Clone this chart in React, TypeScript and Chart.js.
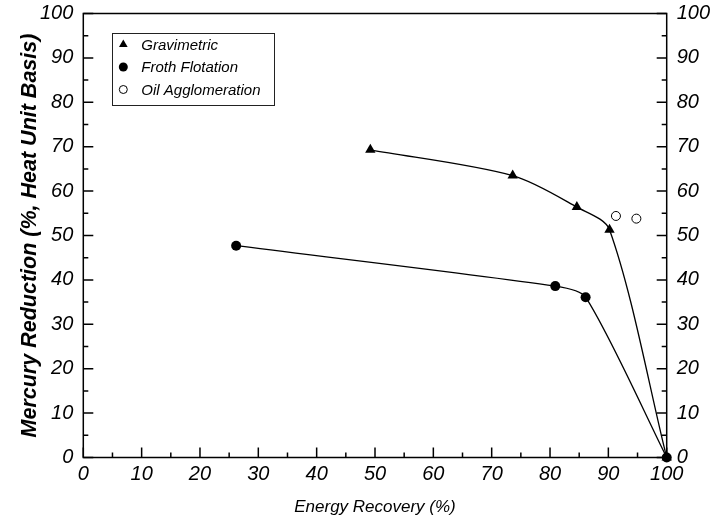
import React, { useEffect, useRef } from "react";
import { Chart, registerables } from "chart.js";

Chart.register(...registerables);

// ---- data ----
const gravimetricX = [49.2, 73.6, 84.6, 90.2, 100];
const gravimetricY = [69.3, 63.5, 56.4, 51.3, 0];
const frothX = [26.2, 80.9, 86.1, 100];
const frothY = [47.7, 38.6, 36.1, 0];
const oilX = [91.3, 94.8];
const oilY = [54.4, 53.8];
const xTickValues = [0, 10, 20, 30, 40, 50, 60, 70, 80, 90, 100];
const yTickValues = [0, 10, 20, 30, 40, 50, 60, 70, 80, 90, 100];
const seriesNames = ["Gravimetric", "Froth Flotation", "Oil Agglomeration"];
const xTitle = "Energy Recovery (%)";
const yTitle = "Mercury Reduction (%, Heat Unit Basis)";

const FONT = "'Liberation Sans', Arial, sans-serif";

const toPoints = (xs: number[], ys: number[]) => xs.map((x, i) => ({ x, y: ys[i] }));

const decorPlugin = {
  id: "decor",
  afterDraw(chart: any) {
    const ctx = chart.ctx;
    const { left, right, top, bottom } = chart.chartArea;
    const xs = chart.scales.x;
    const ys = chart.scales.y;
    ctx.save();
    ctx.strokeStyle = "#000";
    ctx.lineWidth = 1.5;
    // frame
    ctx.beginPath();
    ctx.moveTo(left, top);
    ctx.lineTo(right, top);
    ctx.lineTo(right, bottom);
    ctx.lineTo(left, bottom);
    ctx.closePath();
    ctx.stroke();
    // inward ticks
    ctx.beginPath();
    for (let v = 0; v <= 100; v += 5) {
      const len = v % 10 === 0 ? 10 : 5;
      const px = xs.getPixelForValue(v);
      ctx.moveTo(px, bottom);
      ctx.lineTo(px, bottom - len);
      const py = ys.getPixelForValue(v);
      ctx.moveTo(left, py);
      ctx.lineTo(left + len, py);
      ctx.moveTo(right, py);
      ctx.lineTo(right - len, py);
    }
    ctx.stroke();

    // legend
    const bx = left + 29;
    const by = top + 19;
    const bw = 162;
    const bh = 72;
    ctx.lineWidth = 1;
    ctx.strokeStyle = "#222";
    ctx.strokeRect(Math.round(bx) + 0.5, Math.round(by) + 0.5, bw, bh);
    ctx.font = `italic 15px ${FONT}`;
    ctx.textBaseline = "middle";
    ctx.textAlign = "left";
    ctx.fillStyle = "#000";
    const rowY = [by + 12, by + 34.5, by + 57];
    const mx = bx + 11;
    {
      const r = 5;
      const cy = rowY[0];
      ctx.beginPath();
      ctx.moveTo(mx, cy - r);
      ctx.lineTo(mx + r * 0.866, cy + r * 0.5);
      ctx.lineTo(mx - r * 0.866, cy + r * 0.5);
      ctx.closePath();
      ctx.fill();
    }
    ctx.beginPath();
    ctx.arc(mx, rowY[1], 4.5, 0, Math.PI * 2);
    ctx.fill();
    ctx.beginPath();
    ctx.arc(mx, rowY[2], 4, 0, Math.PI * 2);
    ctx.fillStyle = "#fff";
    ctx.fill();
    ctx.strokeStyle = "#000";
    ctx.stroke();
    ctx.fillStyle = "#000";
    seriesNames.forEach((n, i) => ctx.fillText(n, bx + 29, rowY[i] + 1));
    ctx.restore();
  },
};

export default function App() {
  const ref = useRef<HTMLCanvasElement | null>(null);
  useEffect(() => {
    document.body.style.margin = "0";
    const canvas = ref.current!;
    const tickFont = { family: FONT, size: 20, style: "italic" as const };
    const chart = new Chart(canvas, {
      type: "scatter",
      data: {
        datasets: [
          {
            label: seriesNames[0],
            data: toPoints(gravimetricX, gravimetricY),
            showLine: true,
            tension: 0.3,
            borderColor: "#000",
            borderWidth: 1.3,
            backgroundColor: "#000",
            pointStyle: "triangle",
            pointRadius: 6,
            pointBorderWidth: 0,
            clip: false,
            order: 1,
          } as any,
          {
            label: seriesNames[1],
            data: toPoints(frothX, frothY),
            showLine: true,
            tension: 0.25,
            borderColor: "#000",
            borderWidth: 1.3,
            backgroundColor: "#000",
            pointStyle: "circle",
            pointRadius: 5,
            pointBorderWidth: 0,
            clip: false,
            order: 0,
          } as any,
          {
            label: seriesNames[2],
            data: toPoints(oilX, oilY),
            showLine: false,
            borderColor: "#000",
            backgroundColor: "#fff",
            pointStyle: "circle",
            pointRadius: 4.5,
            pointBorderWidth: 1,
            clip: false,
            order: 2,
          } as any,
        ],
      },
      options: {
        responsive: false,
        animation: false,
        devicePixelRatio: 1,
        layout: { padding: { top: 13.5, left: 0, right: 0, bottom: 0 } },
        plugins: { legend: { display: false }, tooltip: { enabled: false } },
        scales: {
          x: {
            type: "linear",
            min: 0,
            max: 100,
            grid: { display: false, drawTicks: false },
            border: { display: false },
            afterBuildTicks: (s: any) => {
              s.ticks = xTickValues.map((v) => ({ value: v }));
            },
            afterFit: (s: any) => {
              s.height = 65.5;
              s.paddingLeft = 0;
              s.paddingRight = 0;
            },
            ticks: {
              font: tickFont,
              color: "#000",
              padding: 5,
              maxRotation: 0,
              autoSkip: false,
              callback: (v: any) => String(v),
            },
            title: {
              display: true,
              text: xTitle,
              color: "#000",
              font: { family: FONT, size: 17, style: "italic" },
              padding: { top: 0, bottom: 6 },
            },
          },
          y: {
            type: "linear",
            position: "left",
            min: 0,
            max: 100,
            grid: { display: false, drawTicks: false },
            border: { display: false },
            afterBuildTicks: (s: any) => {
              s.ticks = yTickValues.map((v) => ({ value: v }));
            },
            afterFit: (s: any) => {
              s.width = 83.3;
              s.paddingTop = 0;
              s.paddingBottom = 0;
            },
            ticks: {
              font: tickFont,
              color: "#000",
              padding: 10,
              autoSkip: false,
              callback: (v: any) => String(v),
            },
            title: {
              display: true,
              text: yTitle,
              color: "#000",
              font: { family: FONT, size: 21.5, style: "italic", weight: "bold" },
              padding: { top: 17, bottom: 0 },
            },
          },
          y2: {
            type: "linear",
            position: "right",
            min: 0,
            max: 100,
            grid: { display: false, drawTicks: false },
            border: { display: false },
            afterBuildTicks: (s: any) => {
              s.ticks = yTickValues.map((v) => ({ value: v }));
            },
            afterFit: (s: any) => {
              s.width = 51.3;
              s.paddingTop = 0;
              s.paddingBottom = 0;
            },
            ticks: {
              font: tickFont,
              color: "#000",
              padding: 10,
              autoSkip: false,
              callback: (v: any) => String(v),
            },
          },
        },
      },
      plugins: [decorPlugin],
    });
    return () => chart.destroy();
  }, []);
  return (
    <div style={{ position: "absolute", left: 0, top: 0, width: 718, height: 523 }}>
      <canvas ref={ref} width={718} height={523} style={{ display: "block" }} />
    </div>
  );
}
